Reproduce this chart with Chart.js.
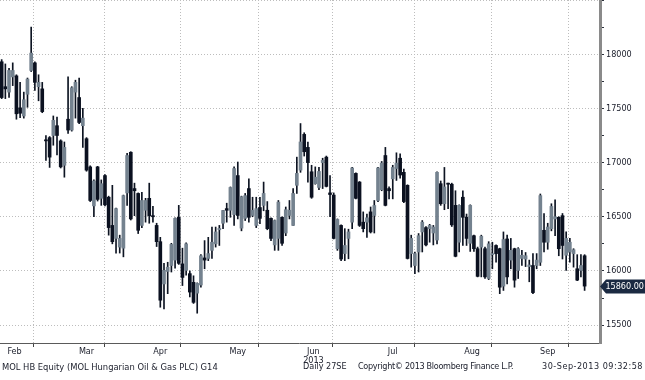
<!DOCTYPE html>
<html>
<head>
<meta charset="utf-8">
<script src="https://cdn.jsdelivr.net/npm/chart.js@4.4.0/dist/chart.umd.min.js"></script>
<style>
  html, body { margin: 0; padding: 0; background: #fff; }
  #wrap { position: relative; width: 645px; height: 380px; overflow: hidden; }
  #chart { position: absolute; left: 0; top: 0; }
  .foot { position: absolute; top: 361px; line-height: 11px; font: 9px 'DejaVu Sans Condensed', sans-serif; color: #1a1d2a; white-space: nowrap; }
</style>
</head>
<body>
<div id="wrap">
  <canvas id="chart" width="645" height="380"></canvas>
  <span class="foot" style="left:2px; font-size:9.3px">MOL HB Equity (MOL Hungarian Oil &amp; Gas PLC) G14</span>
  <span class="foot" style="left:303px">Daily 27SE</span>
  <span class="foot" style="left:358px; letter-spacing:-0.3px">Copyright© 2013 Bloomberg Finance L.P.</span>
  <span class="foot" style="right:2px; letter-spacing:0.5px">30-Sep-2013 09:32:58</span>
</div>
<script>
// daily OHLC, MOL HB Equity, early Feb .. 30 Sep 2013
const opens = [
  17930, 17700, 17650, 17790, 17800, 17505, 17430, 17630, 17850, 17920,
  17700, 17680, 17210, 17230, 17250, 17340, 17200, 16975, 17400, 17300,
  17650, 17600, 17340, 17220, 16960, 16600, 16960, 16670, 16880, 16680,
  16420, 16300, 16220, 16210, 16720, 17095, 16760, 16715, 16420, 16560,
  16670, 16510, 16420, 16270, 15880, 15995, 16050, 16100, 16495, 16065,
  16005, 15975, 15895, 15795, 15870, 16120, 16115, 16190, 16250, 16380,
  16440, 16575, 16560, 16520, 16880, 16395, 16485, 16760, 16512, 16420,
  16585, 16605, 16560, 16485, 16240, 16300, 16495, 16350, 16512, 16420,
  16790, 16930, 17260, 17140, 16915, 16805, 16770, 17000, 17050, 16720,
  16700, 16205, 16420, 16160, 16300, 16450, 16900, 16820, 16450, 16450,
  16545, 16512, 16650, 16750, 17065, 16760, 16850, 16945, 17040, 16910,
  16790, 16160, 16050, 16175, 16360, 16400, 16390, 16350, 16285, 16805,
  16620, 16810, 16800, 16605, 16265, 16680, 16495, 16255, 16325, 16205,
  16220, 16205, 15930, 16150, 16235, 16205, 15860, 16295, 16100, 16205,
  16005, 16115, 16110, 16040, 16050, 16050, 16080, 16375, 16265, 16390,
  16480, 16495, 16510, 16145, 16175, 16160, 16020, 16005, 16140
];
const highs = [
  17950, 17910, 17870, 17920, 17810, 17740, 17650, 17780, 18250, 17930,
  17810, 17740, 17250, 17240, 17430, 17420, 17210, 17190, 17790, 17700,
  17760, 17780, 17500, 17230, 16970, 16840, 16965, 16840, 16890, 16690,
  16790, 16580, 16330, 16700, 17085, 17100, 16810, 16720, 16725, 16670,
  16810, 16595, 16440, 16310, 16070, 16080, 16255, 16490, 16605, 16210,
  16260, 16000, 15955, 15890, 16150, 16280, 16310, 16405, 16405, 16420,
  16560, 16625, 16775, 16960, 17005, 16690, 16715, 16850, 16680, 16680,
  16680, 16820, 16640, 16490, 16470, 16650, 16500, 16590, 16650, 16760,
  17050, 17360, 17275, 17190, 16975, 16960, 16955, 17040, 17060, 16880,
  16720, 16480, 16425, 16390, 16385, 16955, 16905, 16825, 16545, 16525,
  16590, 16650, 16955, 17010, 17140, 16775, 16975, 17090, 17080, 16940,
  16795, 16330, 16175, 16345, 16465, 16410, 16430, 16420, 16915, 16830,
  16955, 16810, 16810, 16740, 16610, 16740, 16525, 16610, 16330, 16220,
  16330, 16220, 16270, 16265, 16240, 16210, 16360, 16330, 16300, 16210,
  16215, 16190, 16170, 16100, 16160, 16160, 16710, 16530, 16440, 16620,
  16655, 16500, 16530, 16360, 16300, 16205, 16150, 16150, 16150
];
const lows = [
  17590, 17590, 17600, 17710, 17400, 17415, 17410, 17510, 17840, 17665,
  17570, 17460, 17020, 16955, 17160, 17070, 16950, 16865, 17270, 17290,
  17410, 17360, 17140, 16920, 16640, 16500, 16645, 16605, 16600, 16330,
  16250, 16165, 16165, 16130, 16605, 16470, 16510, 16345, 16400, 16450,
  16440, 16450, 16225, 15665, 15650, 15790, 15990, 16025, 16060, 15865,
  15960, 15760, 15700, 15610, 15850, 16020, 16095, 16115, 16220, 16235,
  16390, 16450, 16495, 16420, 16480, 16370, 16465, 16450, 16500, 16400,
  16435, 16555, 16380, 16280, 16190, 16190, 16235, 16325, 16480, 16420,
  16715, 16910, 17060, 16820, 16670, 16800, 16750, 16760, 16775, 16500,
  16295, 16190, 16095, 16095, 16112, 16390, 16665, 16410, 16360, 16310,
  16350, 16350, 16640, 16740, 16600, 16665, 16665, 16835, 16855, 16630,
  16110, 16035, 15975, 15990, 16175, 16230, 16265, 16240, 16250, 16605,
  16565, 16575, 16410, 16130, 16175, 16235, 16235, 16180, 16180, 15945,
  15945, 15930, 15920, 16020, 16080, 15790, 15820, 15880, 16020, 15850,
  15930, 16050, 16040, 15900, 15790, 16020, 16050, 16175, 16200, 16370,
  16325, 16140, 16110, 16004, 16080, 16035, 15910, 15945, 15820
];
const closes = [
  17600, 17680, 17850, 17850, 17450, 17455, 17580, 17770, 18010, 17740,
  17740, 17470, 17200, 17050, 17390, 17250, 16960, 17140, 17300, 17690,
  17740, 17370, 17410, 16930, 16650, 16830, 16660, 16805, 16610, 16400,
  16270, 16575, 16300, 16695, 17065, 16480, 16740, 16375, 16650, 16650,
  16510, 16500, 16270, 15730, 16005, 16035, 16245, 16485, 16070, 15940,
  16250, 15805, 15710, 15885, 16140, 16100, 16160, 16265, 16360, 16392,
  16558, 16560, 16770, 16945, 16512, 16685, 16695, 16495, 16560, 16575,
  16485, 16715, 16390, 16300, 16465, 16635, 16255, 16565, 16560, 16715,
  16900, 17190, 17100, 17000, 16680, 16865, 16918, 17020, 16780, 16705,
  16300, 16475, 16110, 16235, 16360, 16950, 16670, 16420, 16390, 16490,
  16360, 16604, 16950, 16995, 16605, 16740, 16955, 16995, 16885, 16640,
  16115, 16300, 16160, 16325, 16450, 16240, 16420, 16405, 16910, 16620,
  16775, 16800, 16425, 16135, 16605, 16495, 16300, 16605, 16205, 15950,
  16320, 15945, 16250, 16160, 16160, 15850, 16290, 15945, 16190, 15915,
  16205, 16145, 16140, 16055, 15800, 16100, 16695, 16265, 16405, 16595,
  16500, 16205, 16235, 16300, 16265, 16195, 15915, 16050, 15860
];

// months: first trading-day index of each month (Feb starts before the window)
const monthNames = ['Feb', 'Mar', 'Apr', 'May', 'Jun', 'Jul', 'Aug', 'Sep'];
const monthStarts = [-6, 14, 33, 54, 75, 95, 118, 138, 159];
const yearLabel = '2013';
const yTicks = [15500, 15750, 16000, 16250, 16500, 16750, 17000, 17250,
                17500, 17750, 18000, 18250, 18500];

const UP = '#74828f', DOWN = '#0b1120', WICK = '#0d1422';
const GRID = '#bdbdbd';
const FONT = "'DejaVu Sans Condensed', 'DejaVu Sans', sans-serif";

const boundaries = monthStarts.slice(1);
const centers = monthNames.map((m, k) => (monthStarts[k] + monthStarts[k + 1] - 1) / 2);

const wickData = closes.map((c, i) => ({ x: i, y: [lows[i], highs[i]] }));
const bodyData = closes.map((c, i) => {
  const o = opens[i];
  // keep a minimal body so doji candles stay visible
  return { x: i, y: c === o ? [o - 6, o + 6] : [o, c] };
});
const bodyColors = closes.map((c, i) => (c >= opens[i] ? UP : DOWN));

const noPad = (s) => { s.paddingTop = 0; s.paddingBottom = 0; s.paddingLeft = 0; s.paddingRight = 0; };

// solid axis lines (border.dash in v4 also dashes the border, so draw them here)
const axisLines = {
  id: 'axisLines',
  afterDatasetsDraw(chart) {
    const { ctx, chartArea } = chart;
    ctx.save();
    ctx.strokeStyle = '#5a5a5a';
    ctx.lineWidth = 1;
    ctx.beginPath();
    ctx.moveTo(chartArea.left, chartArea.bottom + 0.5);
    ctx.lineTo(chartArea.right, chartArea.bottom + 0.5);
    ctx.stroke();
    ctx.strokeStyle = '#8a8a8a';
    ctx.lineWidth = 3;
    ctx.beginPath();
    ctx.moveTo(chartArea.right + 1.5, chartArea.top);
    ctx.lineTo(chartArea.right + 1.5, chartArea.bottom + 1);
    ctx.stroke();
    ctx.restore();
  }
};

const lastTag = {
  id: 'lastTag',
  afterDraw(chart) {
    const { ctx, chartArea } = chart;
    const last = closes[closes.length - 1];
    const y = Math.round(chart.scales.y.getPixelForValue(last)) + 0.5;
    const x = chartArea.right + 1;
    ctx.save();
    ctx.fillStyle = '#1b2a42';
    ctx.beginPath();
    ctx.moveTo(x, y);
    ctx.lineTo(x + 6, y - 7);
    ctx.lineTo(645, y - 7);
    ctx.lineTo(645, y + 7);
    ctx.lineTo(x + 6, y + 7);
    ctx.closePath();
    ctx.fill();
    ctx.fillStyle = '#ffffff';
    ctx.font = '9px ' + FONT;
    ctx.textBaseline = 'middle';
    ctx.textAlign = 'right';
    ctx.fillText(last.toFixed(2), 644, y + 0.5);
    ctx.restore();
  }
};

new Chart(document.getElementById('chart'), {
  type: 'bar',
  data: {
    datasets: [
      { data: wickData, backgroundColor: WICK, barThickness: 1, grouped: false, order: 2 },
      { data: bodyData, backgroundColor: bodyColors, barThickness: 3, grouped: false, order: 1 },
    ],
  },
  options: {
    responsive: false,
    animation: false,
    layout: { padding: 0 },
    plugins: { legend: { display: false }, tooltip: { enabled: false } },
    scales: {
      x: {
        type: 'linear',
        min: -0.45,
        max: 161.9,
        offset: false,
        afterBuildTicks: (s) => {
          s.ticks = boundaries.concat(centers).sort((a, b) => a - b).map((v) => ({ value: v }));
        },
        afterFit: (s) => { s.height = 37; noPad(s); },
        grid: {
          color: (c) => (c.tick && boundaries.includes(c.tick.value) ? GRID : 'rgba(0,0,0,0)'),
          tickLength: 4,
          tickBorderDash: [],
          tickColor: (c) => (c.tick && boundaries.includes(c.tick.value) ? '#444' : 'rgba(0,0,0,0)'),
        },
        border: { display: false, dash: [1, 2] },
        ticks: {
          autoSkip: false,
          maxRotation: 0,
          padding: 0,
          color: '#1a1d2a',
          font: { family: FONT, size: 9, lineHeight: 1.0 },
          callback: (v) => {
            const k = centers.indexOf(v);
            if (k < 0) return '';
            return monthNames[k] === 'Jun' ? [monthNames[k], yearLabel] : monthNames[k];
          },
        },
      },
      y: {
        position: 'right',
        min: 15335,
        max: 18500,
        afterBuildTicks: (s) => { s.ticks = yTicks.map((v) => ({ value: v })); },
        afterFit: (s) => { s.width = 46; noPad(s); },
        grid: {
          color: (c) => (c.tick && c.tick.value % 500 === 0 ? GRID : 'rgba(0,0,0,0)'),
          tickLength: 5,
          tickBorderDash: [],
          tickColor: '#2a2f3a',
        },
        border: { display: false, dash: [1, 2] },
        ticks: {
          padding: 2,
          color: '#1a1d2a',
          font: { family: FONT, size: 9 },
          callback: (v) => (v % 500 === 0 && v < 18500 ? String(v) : ''),
        },
      },
    },
  },
  plugins: [axisLines, lastTag],
});
</script>
</body>
</html>
